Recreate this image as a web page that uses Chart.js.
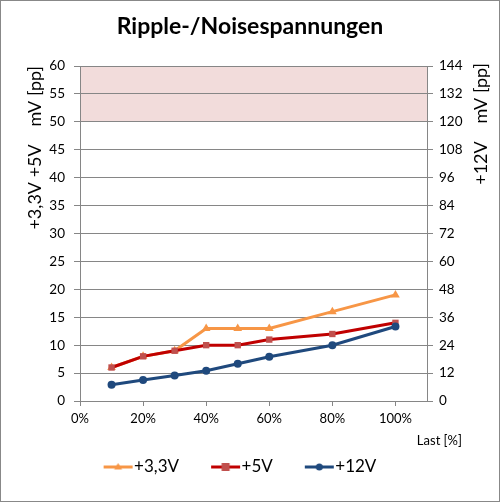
<!DOCTYPE html>
<html>
<head>
<meta charset="utf-8">
<script src="https://cdn.jsdelivr.net/npm/chart.js@4"></script>
<style>
html,body{margin:0;padding:0;background:#fff;}
#wrap{position:relative;width:500px;height:502px;}
canvas{display:block;}
</style>
</head>
<body>
<div id="wrap"><canvas id="c" width="500" height="502"></canvas></div>
<script>
// ---- data ----
const loadPercent = [10, 20, 30, 40, 50, 60, 80, 100];
const v33 = [6, 8, 9, 13, 13, 13, 16, 19];
const v5 = [6, 8, 9, 10, 10, 11, 12, 14];
const v12 = [7, 9, 11, 13, 16, 19, 24, 32];
const seriesNames = ['+3,3V', '+5V', '+12V'];
const xTickValues = [0, 20, 40, 60, 80, 100];
const titleText = 'Ripple-/Noisespannungen';
const leftAxisTitle = '+3,3V +5V\u00a0\u00a0\u00a0\u00a0mV [pp]';
const rightAxisTitle = '+12V\u00a0\u00a0\u00a0\u00a0mV [pp]';
const xAxisTitle = 'Last [%]';
const limitBand = [50, 60];

const FONT = 'Lato';
const GRID = '#868686';
const colors = {
  o: '#F79646', r: '#C00000', rm: '#C0504D', b: '#1F497D'
};

function pts(arr){ return loadPercent.map((x,i)=>({x:x, y:arr[i]})); }

// legend icon: canvas 100 wide, centred on a 50px legend box; line sits at the right part
function legendIcon(lineColor, markColor, shape){
  const c = document.createElement('canvas');
  c.width = 100; c.height = 12;
  const g = c.getContext('2d');
  const x0 = 53, x1 = 82, cx = (x0 + x1) / 2;
  g.strokeStyle = lineColor; g.lineWidth = 3;
  g.beginPath(); g.moveTo(x0,6); g.lineTo(x1,6); g.stroke();
  g.fillStyle = markColor;
  if (shape === 'tri'){ g.beginPath(); g.moveTo(cx,2); g.lineTo(cx+4,8.5); g.lineTo(cx-4,8.5); g.closePath(); g.fill(); }
  else if (shape === 'rect'){ g.fillRect(cx-4,2,8,8); }
  else { g.beginPath(); g.arc(cx,6,3.5,0,Math.PI*2); g.fill(); }
  return c;
}
const icons = [legendIcon(colors.o, colors.o, 'tri'), legendIcon(colors.r, colors.rm, 'rect'), legendIcon(colors.b, colors.b, 'circ')];

const extras = {
  id: 'extras',
  afterLayout(chart){
    if (chart.legend){ chart.legend.left -= 24; chart.legend.right -= 24; }
  },
  beforeDraw(chart){
    const {ctx, chartArea:a, scales:{y}} = chart;
    const t = y.getPixelForValue(limitBand[1]);
    const b = y.getPixelForValue(limitBand[0]);
    ctx.save();
    ctx.fillStyle = '#F2DCDB';
    ctx.fillRect(a.left, t, a.right - a.left, b - t);
    ctx.restore();
  },
  afterDraw(chart){
    const {ctx, chartArea:a} = chart;
    ctx.save();
    ctx.fillStyle = '#000';
    ctx.font = '18px ' + FONT;
    ctx.translate(a.right + 54, a.top - 3);
    ctx.rotate(-Math.PI/2);
    ctx.textAlign = 'right';
    ctx.textBaseline = 'middle';
    ctx.fillText(rightAxisTitle, 0, 0);
    ctx.restore();
    ctx.save();
    ctx.fillStyle = '#000';
    ctx.font = '13px ' + FONT;
    ctx.textAlign = 'right';
    ctx.textBaseline = 'middle';
    ctx.fillText(xAxisTitle, a.right + 35, a.bottom + 40);
    ctx.restore();
    // outer border
    ctx.save();
    ctx.strokeStyle = '#888';
    ctx.lineWidth = 1;
    ctx.strokeRect(0.5, 0.5, chart.width - 1, chart.height - 1);
    ctx.restore();
  }
};

new Chart(document.getElementById('c'), {
  type: 'line',
  data: {
    datasets: [
      {label: seriesNames[0], data: pts(v33), yAxisID: 'y', borderColor: colors.o, backgroundColor: colors.o,
       pointStyle: 'triangle', pointRadius: 5, borderWidth: 3, pointBorderWidth: 0, order: 3},
      {label: seriesNames[1], data: pts(v5), yAxisID: 'y', borderColor: colors.r, backgroundColor: colors.rm,
       pointBackgroundColor: colors.rm, pointBorderColor: colors.rm,
       pointStyle: 'rect', pointRadius: 4.5, borderWidth: 3, pointBorderWidth: 0, order: 2},
      {label: seriesNames[2], data: pts(v12), yAxisID: 'y2', borderColor: colors.b, backgroundColor: colors.b,
       pointStyle: 'circle', pointRadius: 4, borderWidth: 3, pointBorderWidth: 0, order: 1}
    ]
  },
  options: {
    responsive: false,
    animation: false,
    devicePixelRatio: 1,
    layout: {padding: {left: 0, right: 0, top: 0, bottom: 16.5}},
    plugins: {
      title: {display: true, text: titleText, color: '#000',
        font: {family: FONT, size: 23, weight: 'bold', lineHeight: 1.2},
        padding: {top: 13, bottom: 25.4}},
      legend: {position: 'bottom',
        labels: {color: '#000', font: {family: FONT, size: 17}, padding: 4,
          usePointStyle: true, pointStyleWidth: 50, boxHeight: 12,
          generateLabels(chart){
            return chart.data.datasets.map((d,i)=>({text: d.label, pointStyle: icons[i], datasetIndex: i,
              fillStyle: d.borderColor, strokeStyle: d.borderColor, lineWidth: 0, hidden: false, fontColor: '#000'}));
          }}},
      tooltip: {enabled: false}
    },
    scales: {
      x: {type: 'linear', min: 0, max: 110,
        afterBuildTicks(s){ s.ticks = xTickValues.map(v => ({value: v})); },
        afterFit(s){ s.height = 53.5; },
        ticks: {color: '#000', font: {family: FONT, size: 13}, padding: 5,
          callback: v => v + '%', maxRotation: 0, autoSkip: false},
        grid: {drawOnChartArea: false, drawTicks: true, tickLength: 5, color: GRID},
        border: {color: GRID, width: 1}
      },
      y: {position: 'left', min: 0, max: 60,
        afterFit(s){ s.width = 80; },
        ticks: {stepSize: 5, color: '#000', font: {family: FONT, size: 13.5}, padding: 9},
        grid: {color: GRID, tickLength: 6},
        border: {color: GRID, width: 1},
        title: {display: true, text: leftAxisTitle, align: 'end', color: '#000',
          font: {family: FONT, size: 18}, padding: {top: 24, bottom: 0}}
      },
      y2: {position: 'right', min: 0, max: 144,
        afterFit(s){ s.width = 73; },
        ticks: {stepSize: 12, color: '#000', font: {family: FONT, size: 13.5}, padding: 6},
        grid: {drawOnChartArea: false, color: GRID, tickLength: 6},
        border: {color: GRID, width: 1}
      }
    }
  },
  plugins: [extras]
});
</script>
</body>
</html>
